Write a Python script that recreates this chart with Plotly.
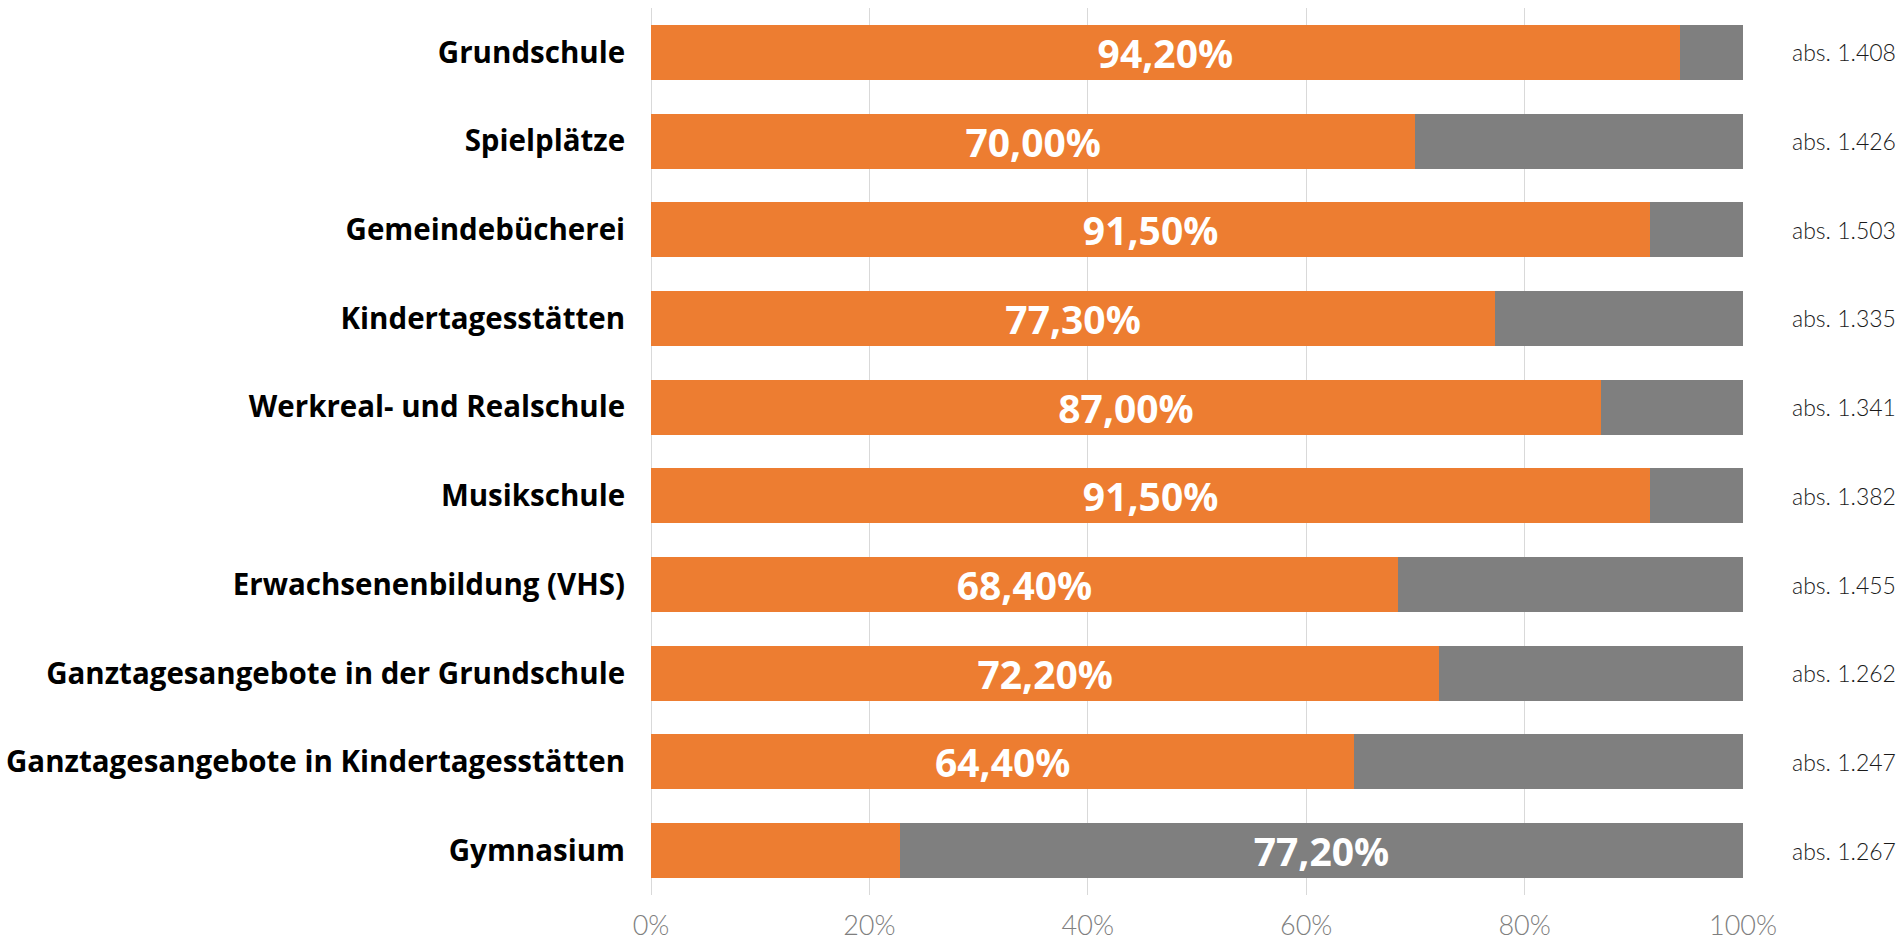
import plotly.graph_objects as go

categories = [
    "Grundschule",
    "Spielplätze",
    "Gemeindebücherei",
    "Kindertagesstätten",
    "Werkreal- und Realschule",
    "Musikschule",
    "Erwachsenenbildung (VHS)",
    "Ganztagesangebote in der Grundschule",
    "Ganztagesangebote in Kindertagesstätten",
    "Gymnasium",
]
orange_values = [94.2, 70.0, 91.5, 77.3, 87.0, 91.5, 68.4, 72.2, 64.4, 22.8]
gray_values = [5.8, 30.0, 8.5, 22.7, 13.0, 8.5, 31.6, 27.8, 35.6, 77.2]
show_orange_label = [True, True, True, True, True, True, True, True, True, False]
abs_labels = ["abs. 1.408", "abs. 1.426", "abs. 1.503", "abs. 1.335", "abs. 1.341",
              "abs. 1.382", "abs. 1.455", "abs. 1.262", "abs. 1.247", "abs. 1.267"]
tick_values = [0, 20, 40, 60, 80, 100]
tick_labels = ["0%", "20%", "40%", "60%", "80%", "100%"]

ORANGE = "#ED7D31"
GRAY = "#7F7F7F"


def fmt(v):
    return f"{v:.2f}".replace(".", ",") + "%"


orange_text = [fmt(v) if s else "" for v, s in zip(orange_values, show_orange_label)]
gray_text = [fmt(v) if not s else "" for v, s in zip(gray_values, show_orange_label)]

bar_font = dict(family="Open Sans", size=39, color="white", weight=700)

fig = go.Figure()
fig.add_trace(go.Bar(
    y=categories, x=orange_values, orientation="h",
    marker=dict(color=ORANGE, line=dict(width=0)),
    text=orange_text, textposition="inside", insidetextanchor="middle",
    textangle=0, insidetextfont=bar_font, constraintext="none",
    cliponaxis=False, hoverinfo="skip",
))
fig.add_trace(go.Bar(
    y=categories, x=gray_values, orientation="h",
    marker=dict(color=GRAY, line=dict(width=0)),
    text=gray_text, textposition="inside", insidetextanchor="middle",
    textangle=0, insidetextfont=bar_font, constraintext="none",
    cliponaxis=False, hoverinfo="skip",
))

for cat, lab in zip(categories, abs_labels):
    fig.add_annotation(
        x=1.0, xref="paper", xshift=47, y=cat, yref="y",
        text=lab, showarrow=False, xanchor="left", yanchor="middle",
        font=dict(family="Lato", size=23, color="#1a1a1a", weight=300),
    )

fig.update_layout(
    barmode="stack",
    bargap=0.38,
    width=1902, height=941,
    margin=dict(l=651, r=159, t=8, b=46, autoexpand=False),
    paper_bgcolor="white", plot_bgcolor="white",
    showlegend=False,
)
fig.update_xaxes(
    range=[0, 100], tickvals=tick_values, ticktext=tick_labels,
    showgrid=True, gridcolor="#D9D9D9", gridwidth=1,
    zeroline=True, zerolinecolor="#D9D9D9", zerolinewidth=1,
    showline=False, automargin=False,
    tickfont=dict(family="Lato", size=27, color="#7F7F7F", weight=300),
    ticks="outside", ticklen=7, tickcolor="rgba(0,0,0,0)",
    fixedrange=True,
)
fig.update_yaxes(
    categoryorder="array", categoryarray=categories, autorange="reversed",
    showgrid=False, zeroline=False, showline=False, automargin=False,
    tickfont=dict(family="Open Sans", size=29.5, color="#000000", weight=700),
    ticks="outside", ticklen=19, tickcolor="rgba(0,0,0,0)",
    fixedrange=True,
)

fig.write_html(
    "out.html",
    config={"displayModeBar": False},
    post_script="document.body.style.margin='0';document.body.style.overflow='hidden';",
)
